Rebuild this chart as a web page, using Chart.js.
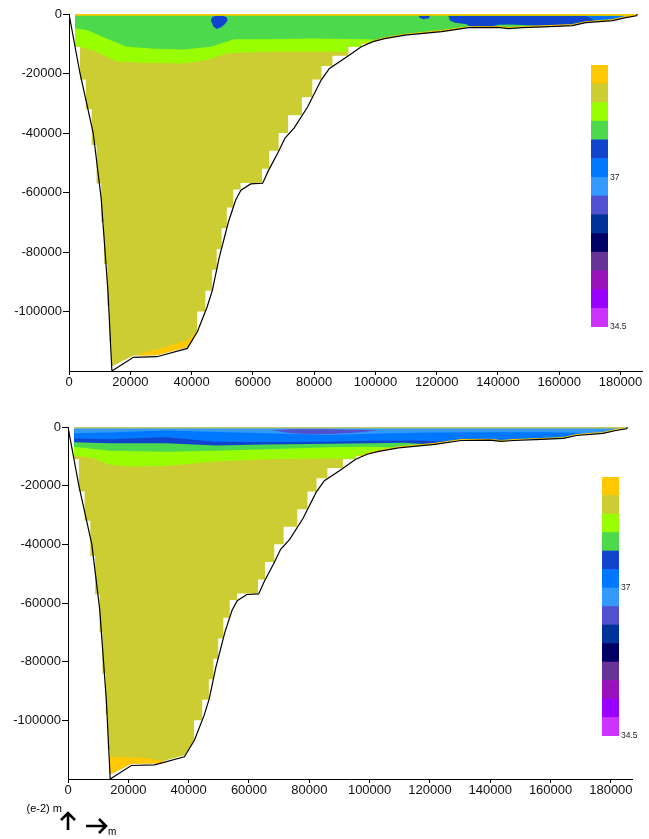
<!DOCTYPE html>
<html>
<head>
<meta charset="utf-8">
<script src="https://cdn.jsdelivr.net/npm/chart.js@4.4.1/dist/chart.umd.min.js"></script>
<style>
body { margin: 0; background: #fff; }
#page { position: relative; width: 649px; height: 839px; overflow: hidden; }
canvas { position: absolute; }
</style>
</head>
<body>
<div id="page">
<canvas id="upper-section" width="649" height="400" style="left:0;top:0"></canvas>
<canvas id="lower-section" width="649" height="439" style="left:0;top:400px"></canvas>
<canvas id="upper-legend" width="47" height="285" style="left:591px;top:55px"></canvas>
<canvas id="lower-legend" width="47" height="285" style="left:602px;top:467px"></canvas>
</div>
<script>
// section outline: x in m along the section, y in (e-2) m
const seabedX = [0, 3600, 7900, 10500, 12700, 14000, 21000, 28700, 38600, 41900, 45100, 46800, 49000, 52000, 54400, 56100,
  59300, 63200, 65200, 68100, 70500, 73500, 77900, 82300, 85000, 90000, 95400, 99200, 103000, 109600, 121600, 130400,
  140000, 143500, 147900, 155000, 164300, 168600, 177400, 181700, 185200, 185500];
const seabedY = [0, -20000, -40000, -62000, -93000, -120000, -115400, -115200, -112400, -106800, -98400, -92800, -82000, -70000, -62500, -59200,
  -57100, -56900, -52400, -46800, -41700, -38300, -31200, -22200, -18300, -14900, -11000, -9300, -8300, -7100, -5900, -4600,
  -4500, -4900, -4600, -4300, -3900, -2900, -2200, -1200, -600, 0];

// edge of the gridded water cells
const leftStairX = [2000, 2000, 3600, 3600, 5500, 5500, 7400, 7400, 9000, 9000, 10500, 10500, 11400, 11400, 12500, 12500, 13200, 13200, 13800, 13800];
const leftStairY = [0, -11000, -11000, -22000, -22000, -32000, -32000, -44000, -44000, -57000, -57000, -70000, -70000, -84000, -84000, -98000, -98000, -110000, -110000, -118300];
const floorX = [14300, 21000, 28700, 38600, 41800];
const floorY = [-118300, -114800, -114700, -111900, -107000];
const rightStairX = [41800, 44500, 44500, 46700, 46700, 48200, 48200, 49800, 49800, 51500, 51500, 53600, 53600, 56000, 56000, 63000, 63000,
  65300, 65300, 68400, 68400, 71500, 71500, 76000, 76000, 79400, 79400, 82400, 82400, 86000, 86000, 91200, 91200, 95400];
const rightStairY = [-100000, -100000, -93000, -93000, -86000, -86000, -79000, -79000, -72000, -72000, -65000, -65000, -59000, -59000, -56800, -56800, -52000,
  -52000, -46000, -46000, -40000, -40000, -34000, -34000, -28000, -28000, -22000, -22000, -17500, -17500, -14000, -14000, -11000, -11000];
const shelfX = [95400, 98000, 99200, 103000, 109600, 121600, 130400, 140000, 143500, 147900, 155000, 164300, 168600, 177400, 181700, 184800, 185000];
const shelfY = [-9800, -9800, -9000, -8000, -6800, -5600, -4300, -4200, -4600, -4300, -4000, -3600, -2600, -1900, -900, -300, 0];
const surfaceX = [2000, 185000];
const surfaceY = [-250, -250];

// upper plot: class boundaries
const upperLimeX = [2000, 9000, 15600, 25000, 37500, 45100, 51700, 64800, 85600, 91000, 91000, 95400, 95400];
const upperLimeY = [-10600, -12700, -16000, -16500, -16600, -15500, -13200, -12700, -12700, -12700, -11000, -11000, -9800];
const upperGreenX = [2000, 5800, 13400, 18900, 28000, 37500, 46200, 53900, 62600, 80000, 97600, 100300];
const upperGreenY = [-4800, -5400, -8700, -11000, -11700, -11900, -11000, -8500, -8500, -8200, -8500, -8700];
const upperOrangeX = [22000, 25500, 32000, 38600, 41600, 41800, 38600, 28700, 22000];
const upperOrangeY = [-114800, -113500, -111800, -109600, -106800, -107000, -111900, -114700, -114800];
const upperBlobX = [46300, 46800, 48200, 50200, 51500, 51700, 51000, 49800, 48200, 47100];
const upperBlobY = [-2000, -900, -600, -600, -1100, -2200, -3300, -4400, -5000, -4200];
const upperSpotX = [114200, 117800, 117500, 115600, 114400];
const upperSpotY = [-600, -600, -1400, -1800, -1300];
const upperBlueX = [123800, 168900, 172200, 168600, 164300, 155000, 148000, 144000, 140000, 138000, 130400, 130400, 129300, 126000, 124300];
const upperBlueY = [-600, -600, -2300, -2600, -3600, -4000, -3700, -3500, -3600, -4200, -4300, -3800, -3400, -2900, -2200];
const upperAzureX = [168900, 181000, 181500, 177400, 172200];
const upperAzureY = [-600, -600, -900, -1900, -2300];

// lower plot: class boundaries
const lowerLimeX = [2000, 8000, 13800, 20000, 32500, 49000, 65500, 86400, 95400, 95400];
const lowerLimeY = [-9800, -10500, -12900, -13500, -13300, -11800, -11000, -10700, -10700, -9800];
const lowerGreenX = [2000, 13800, 32500, 49000, 65500, 86400, 100000, 108500];
const lowerGreenY = [-6700, -8100, -8400, -8100, -7600, -6900, -6700, -7000];
const lowerRoyalX = [2000, 13800, 32500, 49000, 65500, 86400, 100000, 112000, 118500];
const lowerRoyalY = [-5200, -5500, -5500, -6300, -6000, -5700, -5500, -5400, -5900];
const lowerAzureX = [2000, 13800, 32500, 49000, 65500, 86400, 100000, 115000, 126000];
const lowerAzureY = [-3900, -4200, -3500, -5000, -5200, -5000, -4700, -4600, -4950];
const lowerSkyX = [2000, 13800, 32500, 49000, 65500, 86400, 100000, 120000, 140000, 160000, 168000, 172500];
const lowerSkyY = [-2100, -1900, -1200, -1700, -2100, -2700, -2300, -1900, -1800, -1800, -2000, -2300];
const lowerIrisX = [67600, 75000, 85000, 95000, 103000, 97000, 88000, 80000, 72000];
const lowerIrisY = [-1000, -800, -800, -900, -1100, -1800, -2400, -2500, -1900];
const lowerOrangeX = [13800, 20000, 26000, 30000, 33000, 28700, 21000, 14300, 13800];
const lowerOrangeY = [-112300, -112600, -112800, -113500, -114600, -114700, -114800, -118300, -118300];

// colour scale, top to bottom
const legendColors = ['#ffc800', '#cccc33', '#99ff00', '#4cd94c', '#1144cc', '#0077ff', '#3399ff',
  '#5050d0', '#003399', '#000066', '#663399', '#9911bb', '#9900ff', '#cc33ff'];
const legendTickAt = [0, 8];
const legendTickText = ['34.5', '37'];
const xTicks = [0, 20000, 40000, 60000, 80000, 100000, 120000, 140000, 160000, 180000];
const yTicks = [-120000, -100000, -80000, -60000, -40000, -20000, 0];
const yUnit = '(e-2) m';
const xUnit = 'm';

const [orange, olive, lime, green, royal, azure, sky, iris] = legendColors;

function pts(xs, ys) {
  return xs.map((x, i) => ({ x: x, y: ys[i] }));
}
function area(xs, ys, color, order) {
  return { data: pts(xs, ys), fill: 'shape', backgroundColor: color, borderColor: 'transparent',
    borderWidth: 0, pointRadius: 0, order: order };
}
// a class reaching from the surface down to its lower boundary, then along the shelf
function layer(bx, by, color, order) {
  const last = bx[bx.length - 1];
  const xs = [bx[0]].concat(bx);
  const ys = [0].concat(by);
  shelfX.forEach((x, i) => {
    if (x > last) { xs.push(x); ys.push(shelfY[i]); }
  });
  return area(xs, ys, color, order);
}
function line(xs, ys, color, width, order) {
  return { data: pts(xs, ys), fill: false, borderColor: color, borderWidth: width, pointRadius: 0, order: order };
}

const waterX = leftStairX.concat(floorX, rightStairX, shelfX);
const waterY = leftStairY.concat(floorY, rightStairY, shelfY);

function section(id, datasets, box, extra) {
  const font = { family: 'Liberation Sans, Arial, sans-serif', size: 13 };
  return new Chart(document.getElementById(id), {
    type: 'line',
    data: { datasets: datasets },
    options: {
      responsive: false,
      animation: false,
      events: [],
      layout: { padding: box.padding },
      elements: { line: { tension: 0 } },
      plugins: { legend: { display: false }, tooltip: { enabled: false } },
      scales: {
        x: {
          type: 'linear', min: 0, max: 187000,
          grid: { drawOnChartArea: false, color: '#000', tickLength: 4 },
          border: { color: '#000', width: 1 },
          ticks: { autoSkip: false, maxRotation: 0, padding: 0, color: '#111', font: font, callback: v => String(v) },
          afterBuildTicks: s => { s.ticks = xTicks.map(v => ({ value: v })); },
          afterFit: s => { s.height = 29; }
        },
        y: {
          type: 'linear', min: -120000, max: 0,
          grid: { drawOnChartArea: false, color: '#000', tickLength: 6 },
          border: { color: '#000', width: 1 },
          ticks: { padding: 1, color: '#111', font: font,
            callback: v => (v === -120000 ? null : String(v)) },
          afterBuildTicks: s => { s.ticks = yTicks.map(v => ({ value: v })); },
          afterFit: s => { s.width = box.axisWidth; }
        }
      }
    },
    plugins: extra || []
  });
}

section('upper-section', [
  area(waterX, waterY, olive, 20),
  area(upperOrangeX, upperOrangeY, orange, 19),
  layer(upperLimeX, upperLimeY, lime, 18),
  layer(upperGreenX, upperGreenY, green, 17),
  area(upperBlobX, upperBlobY, royal, 16),
  area(upperSpotX, upperSpotY, royal, 15),
  area(upperBlueX, upperBlueY, royal, 14),
  area(upperAzureX, upperAzureY, azure, 13),
  line(shelfX, shelfY, orange, 1.2, 3),
  line(surfaceX, surfaceY, orange, 2, 2),
  line(seabedX, seabedY, '#000', 1.2, 1)
], { padding: { top: 14, right: 7, bottom: 0, left: 0 }, axisWidth: 69 });

const unitMarks = {
  id: 'unitMarks',
  afterDraw(chart) {
    const ctx = chart.ctx;
    const a = chart.chartArea;
    ctx.save();
    ctx.fillStyle = '#000';
    ctx.strokeStyle = '#000';
    ctx.font = '11px "Liberation Sans", Arial, sans-serif';
    ctx.textAlign = 'right';
    ctx.textBaseline = 'middle';
    ctx.fillText(yUnit, a.left - 6, a.bottom + 30);
    ctx.lineWidth = 2.6;
    ctx.beginPath();
    ctx.moveTo(a.left, a.bottom + 51);
    ctx.lineTo(a.left, a.bottom + 34);
    ctx.moveTo(a.left - 7, a.bottom + 41);
    ctx.lineTo(a.left, a.bottom + 34);
    ctx.lineTo(a.left + 7, a.bottom + 41);
    ctx.moveTo(a.left + 18, a.bottom + 47);
    ctx.lineTo(a.left + 38, a.bottom + 47);
    ctx.moveTo(a.left + 31, a.bottom + 40);
    ctx.lineTo(a.left + 38, a.bottom + 47);
    ctx.lineTo(a.left + 31, a.bottom + 54);
    ctx.stroke();
    ctx.font = '10px "Liberation Sans", Arial, sans-serif';
    ctx.textAlign = 'left';
    ctx.fillText(xUnit, a.left + 40, a.bottom + 53);
    ctx.restore();
  }
};

section('lower-section', [
  area(waterX, waterY, olive, 20),
  area(lowerOrangeX, lowerOrangeY, orange, 19),
  layer(lowerLimeX, lowerLimeY, lime, 18),
  layer(lowerGreenX, lowerGreenY, green, 17),
  layer(lowerRoyalX, lowerRoyalY, royal, 16),
  layer(lowerAzureX, lowerAzureY, azure, 15),
  layer(lowerSkyX, lowerSkyY, sky, 14),
  area(lowerIrisX, lowerIrisY, iris, 13),
  line(shelfX, shelfY, orange, 1.2, 3),
  line(surfaceX, surfaceY, '#bfc86a', 1.5, 2),
  line(seabedX, seabedY, '#000', 1.2, 1)
], { padding: { top: 27, right: 17, bottom: 31, left: 0 }, axisWidth: 68 }, [unitMarks]);

function colorbar(id, padBottom) {
  return new Chart(document.getElementById(id), {
    type: 'bar',
    data: {
      labels: [''],
      datasets: legendColors.slice().reverse().map(c => ({
        data: [1], backgroundColor: c, borderWidth: 0, barPercentage: 1, categoryPercentage: 1
      }))
    },
    options: {
      responsive: false,
      animation: false,
      events: [],
      layout: { padding: { top: 10, bottom: padBottom, left: 0, right: 0 } },
      plugins: { legend: { display: false }, tooltip: { enabled: false } },
      scales: {
        x: { display: false, stacked: true },
        y: {
          position: 'right', stacked: true, min: 0, max: legendColors.length,
          grid: { display: false, drawTicks: false }, border: { display: false },
          ticks: { padding: 2, color: '#222', font: { family: 'Liberation Sans, Arial, sans-serif', size: 8.5 },
            callback: v => legendTickText[legendTickAt.indexOf(v)] },
          afterBuildTicks: s => { s.ticks = legendTickAt.map(v => ({ value: v })); },
          afterFit: s => { s.width = 30; }
        }
      }
    }
  });
}
colorbar('upper-legend', 13);
colorbar('lower-legend', 16);
</script>
</body>
</html>
